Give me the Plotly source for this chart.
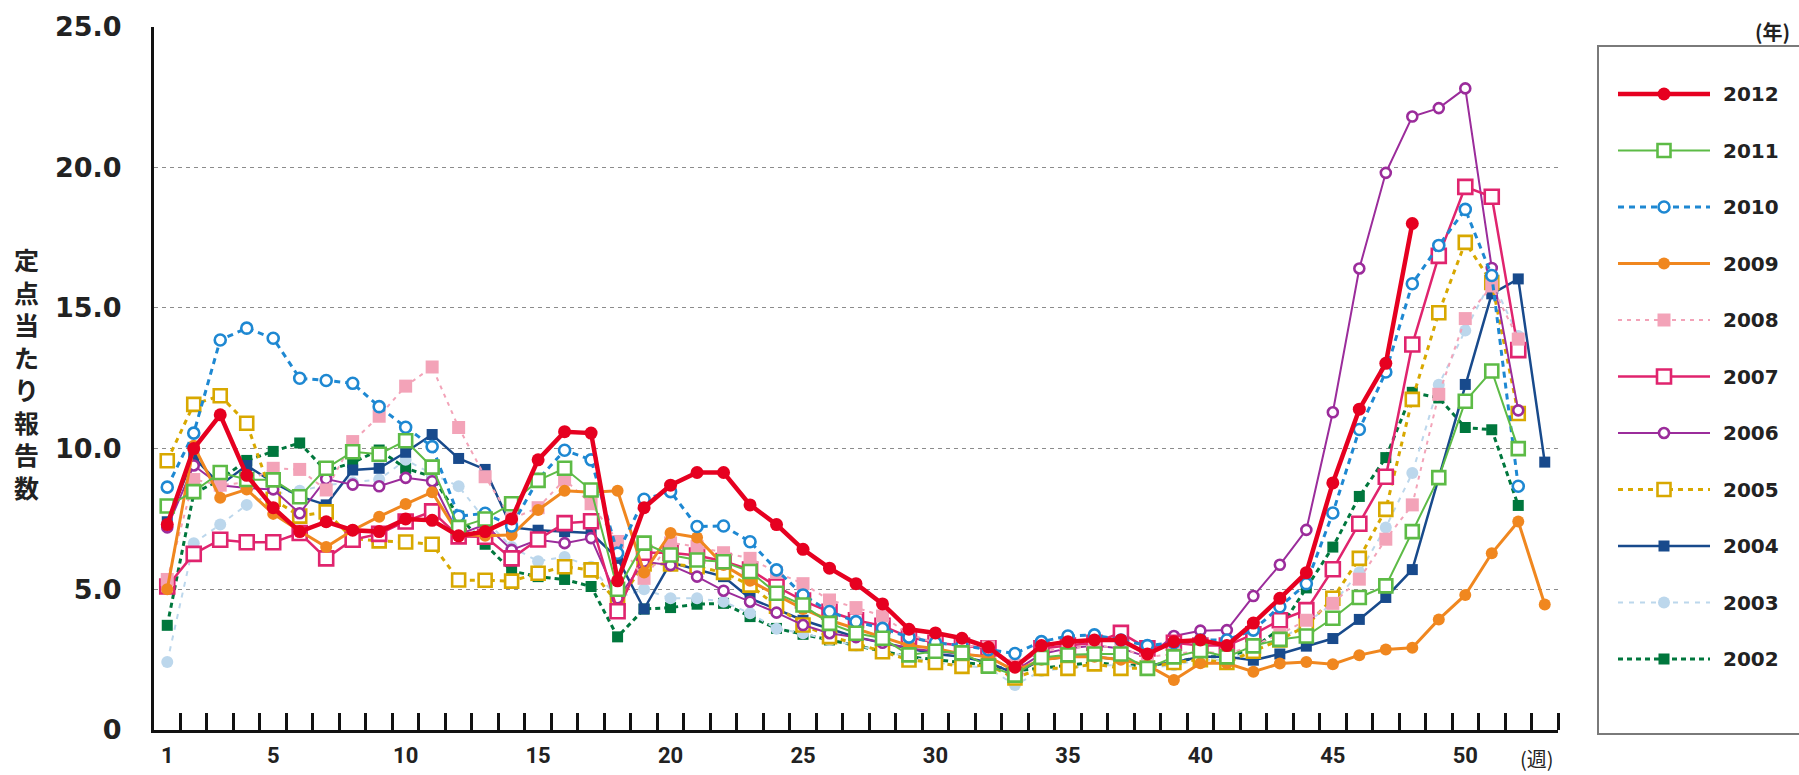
import plotly.graph_objects as go

# ---------------- data ----------------
weeks = list(range(1, 54))
years = ["2012", "2011", "2010", "2009", "2008", "2007", "2006", "2005", "2004", "2003", "2002"]

y2012 = [7.3, 10.0, 11.2, 9.05, 7.9, 7.05, 7.4, 7.1, 7.05, 7.5,
         7.45, 6.9, 7.05, 7.5, 9.6, 10.6, 10.55, 5.3, 7.9, 8.7,
         9.15, 9.15, 8.0, 7.3, 6.42, 5.75, 5.2, 4.48, 3.58, 3.45,
         3.26, 2.94, 2.23, 3.0, 3.14, 3.2, 3.2, 2.7, 3.14, 3.2,
         3.0, 3.8, 4.68, 5.59, 8.78, 11.4, 13.03, 18.0]
y2011 = [7.96, 8.47, 9.15, 8.9, 8.89, 8.29, 9.3, 9.89, 9.8, 10.28,
         9.34, 7.2, 7.5, 8.04, 8.87, 9.3, 8.53, 5.0, 6.64, 6.22,
         6.04, 5.98, 5.63, 4.86, 4.44, 3.79, 3.44, 3.26, 2.67, 2.8,
         2.74, 2.27, 1.95, 2.58, 2.67, 2.7, 2.7, 2.19, 2.6, 2.82,
         2.6, 2.99, 3.22, 3.34, 3.97, 4.71, 5.12, 7.05, 8.97, 11.68,
         12.76, 10.0]
y2010 = [8.63, 10.55, 13.86, 14.28, 13.92, 12.5, 12.42, 12.32, 11.49, 10.76,
         10.07, 7.6, 7.7, 7.25, 8.9, 9.94, 9.6, 6.28, 8.2, 8.47,
         7.23, 7.25, 6.69, 5.69, 4.8, 4.21, 3.85, 3.61, 3.3, 3.1,
         3.0, 2.85, 2.72, 3.14, 3.34, 3.38, 3.2, 3.0, 3.1, 3.2,
         3.2, 3.55, 4.38, 5.2, 7.71, 10.68, 12.72, 15.86, 17.22, 18.5,
         16.15, 8.66]
y2009 = [5.0, 10.1, 8.25, 8.55, 7.68, 7.07, 6.5, 7.1, 7.58, 8.03,
         8.45, 6.95, 6.9, 6.93, 7.82, 8.5, 8.45, 8.5, 5.6, 7.0,
         6.84, 5.86, 5.3, 4.8, 4.3, 3.9, 3.6, 3.3, 3.0, 2.9,
         2.7, 2.6, 2.1, 2.5, 2.6, 2.6, 2.5, 2.3, 1.78, 2.37,
         2.37, 2.07, 2.36, 2.42, 2.34, 2.66, 2.86, 2.92, 3.93, 4.8,
         6.28, 7.41, 4.46]
y2008 = [5.35, 8.9, 8.7, 8.8, 9.3, 9.26, 8.53, 10.25, 11.15, 12.22,
         12.9, 10.75, 9.0, 7.5, 7.9, 8.9, 8.04, 6.7, 5.39, 6.65,
         6.52, 6.3, 6.1, 5.6, 5.2, 4.62, 4.35, 4.05, 3.4, 3.1,
         3.0, 2.95, 2.3, 2.8, 2.9, 3.0, 2.9, 2.6, 2.7, 2.8,
         2.7, 3.0, 3.4, 3.9, 4.5, 5.36, 6.78, 8.0, 11.93, 14.62,
         15.78, 13.89]
y2007 = [5.1, 6.26, 6.76, 6.67, 6.67, 7.0, 6.1, 6.76, 6.97, 7.41,
         7.77, 6.88, 6.87, 6.1, 6.77, 7.35, 7.42, 4.22, 6.3, 6.3,
         6.2, 6.0, 5.7, 5.1, 4.6, 4.2, 3.9, 3.7, 3.3, 3.1,
         3.0, 2.9, 2.2, 2.9, 3.0, 3.1, 3.45, 2.9, 3.1, 3.0,
         3.0, 3.4, 3.9, 4.26, 5.71, 7.33, 9.0, 13.7, 16.85, 19.3,
         18.95, 13.5]
y2006 = [7.2, 9.4, 8.7, 8.6, 8.55, 7.7, 8.92, 8.72, 8.66, 8.96,
         8.84, 6.95, 7.3, 6.4, 6.76, 6.64, 6.82, 4.68, 5.98, 5.86,
         5.45, 4.95, 4.56, 4.17, 3.73, 3.44, 3.3, 3.1, 2.9, 2.8,
         2.7, 2.6, 2.1, 2.7, 2.9, 3.0, 2.9, 2.6, 3.34, 3.53,
         3.55, 4.76, 5.87, 7.11, 11.29, 16.4, 19.8, 21.8, 22.1, 22.8,
         16.42, 11.36]
y2005 = [9.57, 11.57, 11.88, 10.9, 8.2, 7.6, 7.75, 6.8, 6.72, 6.68,
         6.6, 5.33, 5.32, 5.29, 5.57, 5.8, 5.69, 4.5, 5.9, 5.9,
         5.8, 5.6, 5.15, 4.4, 3.73, 3.32, 3.08, 2.78, 2.49, 2.4,
         2.26, 2.3, 1.85, 2.19, 2.19, 2.35, 2.19, 2.2, 2.4, 2.5,
         2.4, 2.8, 3.2, 3.7, 4.68, 6.1, 7.84, 11.75, 14.83, 17.33,
         15.9, 11.25]
y2004 = [7.4, 9.7, 8.7, 9.4, 8.8, 8.3, 8.0, 9.24, 9.3, 9.87,
         10.5, 9.65, 9.26, 7.2, 7.1, 7.05, 7.0, 6.1, 4.3, 5.95,
         5.7, 5.45, 4.68, 4.3, 3.9, 3.6, 3.3, 3.1, 2.9, 2.7,
         2.6, 2.4, 2.0, 2.5, 2.6, 2.6, 2.5, 2.3, 2.4, 2.6,
         2.6, 2.48, 2.7, 2.98, 3.25, 3.93, 4.71, 5.7, 8.95, 12.28,
         15.5, 16.03, 9.52]
y2003 = [2.42, 6.64, 7.3, 8.0, 8.4, 8.5, 8.7, 8.8, 8.9, 9.6,
         9.1, 8.66, 7.47, 6.5, 6.0, 6.15, 5.8, 4.7, 5.0, 4.68,
         4.68, 4.56, 4.15, 3.6, 3.44, 3.2, 3.0, 2.8, 2.6, 2.4,
         2.3, 2.2, 1.6, 2.1, 2.2, 2.3, 2.3, 2.2, 2.3, 2.5,
         2.5, 2.8, 3.2, 3.8, 4.5, 5.6, 7.2, 9.13, 12.27, 14.2,
         16.0, 14.0]
y2002 = [3.72, 8.4, 8.9, 9.58, 9.9, 10.2, 9.2, 9.5, 9.95, 9.3,
         9.0, 7.6, 6.6, 5.65, 5.45, 5.35, 5.1, 3.31, 4.3, 4.35,
         4.47, 4.5, 4.03, 3.61, 3.4, 3.2, 3.0, 2.8, 2.6, 2.5,
         2.4, 2.3, 2.1, 2.2, 2.3, 2.4, 2.3, 2.3, 2.4, 2.6,
         2.6, 2.9, 3.6, 5.05, 6.5, 8.3, 9.68, 12.0, 11.8, 10.75,
         10.67, 7.98]

x_tick_weeks = [1, 5, 10, 15, 20, 25, 30, 35, 40, 45, 50]
y_tick_vals = [0, 5, 10, 15, 20, 25]
y_tick_text = ["0", "5.0", "10.0", "15.0", "20.0", "25.0"]

series = {"2012": y2012, "2011": y2011, "2010": y2010, "2009": y2009,
          "2008": y2008, "2007": y2007, "2006": y2006, "2005": y2005,
          "2004": y2004, "2003": y2003, "2002": y2002}

# ---------------- styles ----------------
styles = {
    "2012": dict(color="#E60020", dash="solid", width=4.5, symbol="circle", filled=True, size=13),
    "2011": dict(color="#5DBB46", dash="solid", width=2, symbol="square", filled=False, size=13),
    "2010": dict(color="#1E88D2", dash="6px,5px", width=3, symbol="circle", filled=False, size=11),
    "2009": dict(color="#F0871F", dash="solid", width=3, symbol="circle", filled=True, size=12),
    "2008": dict(color="#F3A3B8", dash="4px,5px", width=2, symbol="square", filled=True, size=13),
    "2007": dict(color="#E0246E", dash="solid", width=2.5, symbol="square", filled=False, size=14),
    "2006": dict(color="#9B2C9B", dash="solid", width=2, symbol="circle", filled=False, size=10),
    "2005": dict(color="#D8A800", dash="5px,5px", width=3, symbol="square", filled=False, size=13),
    "2004": dict(color="#184A8C", dash="solid", width=2.5, symbol="square", filled=True, size=11),
    "2003": dict(color="#BCD7EC", dash="5px,6px", width=2, symbol="circle", filled=True, size=12),
    "2002": dict(color="#00773D", dash="5px,4px", width=3, symbol="square", filled=True, size=11),
}

W, H = 1799, 775
PX0, PX1 = 154, 1558        # plot area left/right (px)
PY_TOP, PY_BOT = 26.5, 730  # plot area top/bottom (px)

def marker_for(st, size=None):
    s = size or st["size"]
    if st["filled"]:
        return dict(symbol=st["symbol"], size=s, color=st["color"], line=dict(width=0))
    return dict(symbol=st["symbol"], size=s, color="white",
                line=dict(width=2.6, color=st["color"]))

fig = go.Figure()

# data traces (oldest first so 2012 is on top)
for yr in reversed(years):
    vals = series[yr]
    st = styles[yr]
    fig.add_trace(go.Scatter(
        x=weeks[:len(vals)], y=vals, mode="lines+markers", name=yr,
        line=dict(color=st["color"], width=st["width"], dash=st["dash"]),
        marker=marker_for(st), showlegend=False, xaxis="x", yaxis="y",
        cliponaxis=False))

# custom legend glyphs
n = len(years)
for i, yr in enumerate(years):
    st = styles[yr]
    row = n - i
    fig.add_trace(go.Scatter(
        x=[0, 1], y=[row, row], mode="lines", xaxis="x3", yaxis="y3",
        line=dict(color=st["color"], width=st["width"], dash=st["dash"]),
        showlegend=False, hoverinfo="skip"))
    fig.add_trace(go.Scatter(
        x=[0.5], y=[row], mode="markers", xaxis="x3", yaxis="y3",
        marker=marker_for(st), showlegend=False, hoverinfo="skip"))

leg_top, leg_step = 94, 56.5
leg_y0 = leg_top + (n - 0.5) * leg_step  # px for row 0.5
leg_y1 = leg_top - 0.5 * leg_step        # px for row n+0.5

annotations = []
for i, yr in enumerate(years):
    ypx = leg_top + i * leg_step
    annotations.append(dict(
        x=1721 / W, y=1 - ypx / H, xref="paper", yref="paper",
        text=yr, showarrow=False, xanchor="left", yanchor="middle",
        font=dict(family="DejaVu Sans", size=20, color="#222", weight="bold")))

annotations.append(dict(
    x=1792 / W, y=1 - 31 / H, xref="paper", yref="paper", text="(年)",
    showarrow=False, xanchor="right", yanchor="middle",
    font=dict(family="Noto Sans CJK JP", size=20, color="#222", weight="bold")))
annotations.append(dict(
    x=1537 / W, y=1 - 758 / H, xref="paper", yref="paper", text="(週)",
    showarrow=False, xanchor="center", yanchor="middle",
    font=dict(family="Noto Sans CJK JP", size=20, color="#222")))
annotations.append(dict(
    x=26 / W, y=1 - 373 / H, xref="paper", yref="paper",
    text="<br>".join(list("定点当たり報告数")),
    showarrow=False, xanchor="center", yanchor="middle",
    font=dict(family="Noto Sans CJK JP", size=25, color="#222", weight="bold")))

shapes = [dict(type="rect", xref="paper", yref="paper",
               x0=1598 / W, x1=1.02, y0=1 - 734 / H, y1=1 - 46 / H,
               line=dict(color="#7a7a7a", width=2), fillcolor="rgba(0,0,0,0)")]

fig.update_layout(
    width=W, height=H, margin=dict(l=0, r=0, t=0, b=0),
    paper_bgcolor="white", plot_bgcolor="white",
    showlegend=False,
    annotations=annotations, shapes=shapes,
    xaxis=dict(
        domain=[PX0 / W, PX1 / W], range=[0.5, 53.5], anchor="y",
        showline=True, linewidth=3, linecolor="#111",
        showgrid=False, zeroline=False, automargin=False,
        tickmode="array", tickvals=x_tick_weeks, ticktext=[str(v) for v in x_tick_weeks],
        ticks="", ticklabelstandoff=4,
        tickfont=dict(family="Liberation Sans Narrow, Roboto, sans-serif", size=22,
                      color="#222", weight="bold"),
        minor=dict(tickvals=[w + 0.5 for w in weeks], ticks="inside", ticklen=17,
                   tickwidth=2.5, tickcolor="#111", showgrid=False),
    ),
    yaxis=dict(
        domain=[1 - PY_BOT / H, 1 - PY_TOP / H], range=[0, 25], anchor="x",
        showline=True, linewidth=3, linecolor="#111",
        showgrid=True, gridcolor="#8c8c8c", gridwidth=1.2, griddash="4px,4px",
        zeroline=False, automargin=False,
        tickmode="array", tickvals=y_tick_vals, ticktext=y_tick_text,
        ticks="", ticklabelstandoff=24,
        tickfont=dict(family="DejaVu Sans", size=27, color="#222", weight="bold"),
    ),
    xaxis3=dict(domain=[1618 / W, 1710 / W], range=[0, 1], anchor="y3",
                visible=False, fixedrange=True),
    yaxis3=dict(domain=[1 - leg_y0 / H, 1 - leg_y1 / H], range=[0.5, n + 0.5],
                anchor="x3", visible=False, fixedrange=True),
)

fig.write_html("out.html", config={"displayModeBar": False},
               post_script="document.body.style.margin='0';")
